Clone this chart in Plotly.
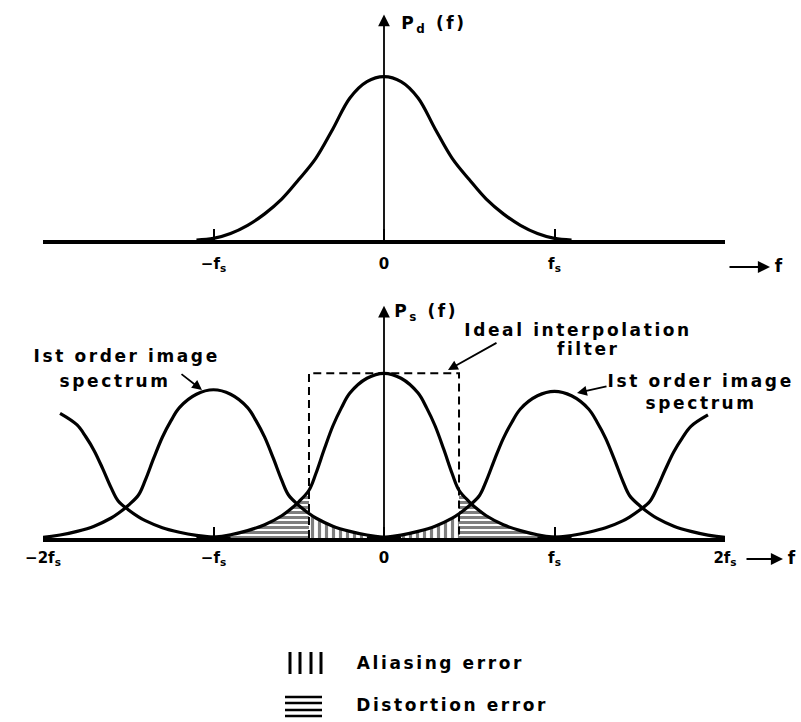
import plotly.graph_objects as go

# ---------------- data ----------------
# Top panel: baseband spectrum Pd(f); one half of the symmetric shape
# (|f| in units of fs, height relative to the peak)
TOP_PROFILE_F = [0, 0.1, 0.2, 0.3, 0.4, 0.5, 0.6, 0.7, 0.8, 0.9, 1.0, 1.1]
TOP_PROFILE_P = [1.0, 0.97, 0.87, 0.68, 0.5, 0.37, 0.25, 0.16, 0.09, 0.04, 0.01, 0.0]

# Bottom panel: sampled spectrum Ps(f), one half of the baseband shape
BOT_PROFILE_F = [0, 0.1, 0.2, 0.25, 0.3, 0.35, 0.4, 0.44, 0.5, 0.56, 0.6, 0.7, 0.8, 0.9, 1.0, 1.1]
BOT_PROFILE_P = [1.0, 0.97, 0.88, 0.79, 0.68, 0.54, 0.39, 0.29, 0.22, 0.165, 0.135, 0.08, 0.045, 0.02, 0.005, 0.0]

# image spectra: centre (fs units), peak height, visible f-span
IMAGE_CENTERS = [-2, -1, 0, 1, 2]
IMAGE_HEIGHTS = [0.78, 0.90, 1.0, 0.89, 0.77]
IMAGE_SPANS = [(-1.9, -0.9), (-2.1, 0.1), (-1.1, 1.1), (-0.1, 2.1), (0.9, 1.9)]

FILTER_EDGE = 0.44      # ideal interpolation filter cut-off (fs units)
FILTER_HEIGHT = 1.0
DISTORTION_LIMIT = 1.0  # extent of the hatched distortion area

TOP_TICKS = [-2, -1, 0, 1, 2]
TOP_TICK_TEXT = ["", "\u2212f<sub>s</sub>", "0", "f<sub>s</sub>", ""]
BOT_TICKS = [-2, -1, 0, 1, 2]
BOT_TICK_TEXT = ["\u22122f<sub>s</sub>", "\u2212f<sub>s</sub>", "0", "f<sub>s</sub>", "2f<sub>s</sub>"]

X_RANGE = [-2, 2]
Y_RANGE = [0, 1.445]

# ---------------- layout geometry (pixels) ----------------
W, H = 801, 722
ML, MR = 43, 76
PW = W - ML - MR
FONT = "DejaVu Sans"


def px(x):
    return (x - ML) / PW


def py(y):
    return (H - y) / H


def image_points(center, height, profile_f, profile_p, lo, hi):
    pts = {}
    for f, p in zip(profile_f, profile_p):
        for s in (-1, 1):
            x = round(center + s * f, 6)
            if lo - 1e-9 <= x <= hi + 1e-9:
                pts[x] = height * p
    xs = sorted(pts)
    return xs, [pts[x] for x in xs]


fig = go.Figure()

BLACK = "black"
CURVE = dict(color=BLACK, width=3.2, shape="spline", smoothing=1.0)

# ---- hatched areas (bottom panel) ----
# distortion error: under the baseband curve outside the filter
for side in (-1, 1):
    lo, hi = (-DISTORTION_LIMIT, -FILTER_EDGE) if side < 0 else (FILTER_EDGE, DISTORTION_LIMIT)
    xs, ys = image_points(0, IMAGE_HEIGHTS[2], BOT_PROFILE_F, BOT_PROFILE_P, lo, hi)
    fig.add_trace(go.Scatter(
        x=xs, y=ys, xaxis="x2", yaxis="y2", mode="lines", fill="tozeroy",
        line=dict(width=0, shape="spline", smoothing=1.0), fillcolor="white",
        fillpattern=dict(shape="-", size=5, solidity=0.6, fgcolor=BLACK, bgcolor="white"),
        hoverinfo="skip", showlegend=False))

# aliasing error: under the first-order images inside the filter
for idx, (lo, hi) in ((1, (-FILTER_EDGE, 0)), (3, (0, FILTER_EDGE))):
    xs, ys = image_points(IMAGE_CENTERS[idx], IMAGE_HEIGHTS[idx], BOT_PROFILE_F, BOT_PROFILE_P, lo, hi)
    fig.add_trace(go.Scatter(
        x=xs, y=ys, xaxis="x2", yaxis="y2", mode="lines", fill="tozeroy",
        line=dict(width=0, shape="spline", smoothing=1.0), fillcolor="white",
        fillpattern=dict(shape="|", size=7, solidity=0.45, fgcolor=BLACK, bgcolor="white"),
        hoverinfo="skip", showlegend=False))

# ---- top panel curve ----
xs, ys = image_points(0, 1.0, TOP_PROFILE_F, TOP_PROFILE_P, -1.1, 1.1)
fig.add_trace(go.Scatter(x=xs, y=ys, xaxis="x", yaxis="y", mode="lines",
                         line=CURVE, hoverinfo="skip", showlegend=False))

# ---- bottom panel curves ----
for c, h, (lo, hi) in zip(IMAGE_CENTERS, IMAGE_HEIGHTS, IMAGE_SPANS):
    xs, ys = image_points(c, h, BOT_PROFILE_F, BOT_PROFILE_P, lo, hi)
    fig.add_trace(go.Scatter(x=xs, y=ys, xaxis="x2", yaxis="y2", mode="lines",
                             line=CURVE, hoverinfo="skip", showlegend=False))

# ideal interpolation filter (dashed rectangle)
fig.add_trace(go.Scatter(
    x=[-FILTER_EDGE, -FILTER_EDGE, FILTER_EDGE, FILTER_EDGE],
    y=[0, FILTER_HEIGHT, FILTER_HEIGHT, 0],
    xaxis="x2", yaxis="y2", mode="lines",
    line=dict(color=BLACK, width=2, dash="8px,5px"),
    hoverinfo="skip", showlegend=False))

axis_common = dict(range=X_RANGE, showgrid=False, zeroline=False, showline=True,
                   linecolor=BLACK, linewidth=3.5, ticks="inside", ticklen=11,
                   tickwidth=2, tickcolor=BLACK, tickmode="array", automargin=False,
                   tickfont=dict(family=FONT, size=15, color=BLACK, weight="bold"),
                   fixedrange=True)
yaxis_common = dict(range=Y_RANGE, visible=False, showgrid=False, zeroline=False,
                    fixedrange=True)

fig.update_layout(
    width=W, height=H,
    margin=dict(l=ML, r=MR, t=0, b=0),
    paper_bgcolor="white", plot_bgcolor="white",
    showlegend=False,
    xaxis=dict(domain=[0, 1], anchor="y", tickvals=TOP_TICKS, ticktext=TOP_TICK_TEXT,
               ticklabelstandoff=7, **axis_common),
    yaxis=dict(domain=[py(240), py(4)], anchor="x", **yaxis_common),
    xaxis2=dict(domain=[0, 1], anchor="y2", tickvals=BOT_TICKS, ticktext=BOT_TICK_TEXT,
                ticklabelstandoff=3, **axis_common),
    yaxis2=dict(domain=[py(538), py(300)], anchor="x2", **yaxis_common),
)

TXT = dict(family=FONT, size=17, color=BLACK, weight="bold")
ann = []
# vertical axes with arrows
for xr, yr, top in (("x", "y", 1.38), ("x2", "y2", 1.41)):
    ann.append(dict(x=0, y=top, ax=0, ay=0, xref=xr, yref=yr, axref=xr, ayref=yr,
                    text="", showarrow=True, arrowhead=2, arrowsize=1.3,
                    arrowwidth=1.8, arrowcolor=BLACK, standoff=0))
# f-axis arrows
for yy, x0, x1, xt in ((267, 728, 770, 774), (559, 745, 783, 787)):
    ann.append(dict(x=px(x1), y=py(yy), xref="paper", yref="paper", ax=-(x1 - x0), ay=0,
                    text="", showarrow=True, arrowhead=2, arrowsize=1.1, arrowwidth=2.2,
                    arrowcolor=BLACK))
    ann.append(dict(x=px(xt), y=py(yy - 1), xref="paper", yref="paper", text="f",
                    showarrow=False, xanchor="left", yanchor="middle", font=TXT))

# labels (centre positions)
labels = [
    ("P<sub>d</sub> (f)", 434, 24),
    ("P<sub>s</sub> (f)", 426, 312),
    ("Ideal interpolation", 578, 330),
    ("filter", 588, 349),
    ("Ist order image", 126, 356),
    ("spectrum", 115, 381),
    ("Ist order image", 700, 381),
    ("spectrum", 701, 403),
]
for t, x, y in labels:
    ann.append(dict(x=px(x), y=py(y), xref="paper", yref="paper", text=t, showarrow=False,
                    xanchor="center", yanchor="middle", font=TXT))

# pointer arrows
for tip, tail in (((448, 370), (498, 342)), ((202, 390), (180, 373)), ((577, 393), (608, 386))):
    ann.append(dict(x=px(tip[0]), y=py(tip[1]), xref="paper", yref="paper",
                    ax=tail[0] - tip[0], ay=tail[1] - tip[1], text="", showarrow=True,
                    arrowhead=2, arrowsize=1.1, arrowwidth=1.8, arrowcolor=BLACK))

# legend
LEGEND_TXT = dict(family=FONT, size=17, color=BLACK, weight="bold")
ann.append(dict(x=px(440), y=py(663), xref="paper", yref="paper", text="Aliasing error",
                showarrow=False, xanchor="center", yanchor="middle", font=LEGEND_TXT))
ann.append(dict(x=px(452), y=py(705), xref="paper", yref="paper", text="Distortion error",
                showarrow=False, xanchor="center", yanchor="middle", font=LEGEND_TXT))
fig.update_layout(annotations=ann)

shapes = []
for xv in (290, 300, 311, 321):
    shapes.append(dict(type="line", xref="paper", yref="paper", x0=px(xv), x1=px(xv),
                       y0=py(652), y1=py(674), line=dict(color=BLACK, width=3)))
for yv in (697, 703, 710, 716):
    shapes.append(dict(type="line", xref="paper", yref="paper", x0=px(285), x1=px(322),
                       y0=py(yv), y1=py(yv), line=dict(color=BLACK, width=2.5)))
fig.update_layout(shapes=shapes)

POST = """
var s = document.createElement('style');
s.innerHTML = 'html,body{margin:0;padding:0;overflow:hidden;} .annotation-text{letter-spacing:2.6px;}';
document.head.appendChild(s);
"""
fig.write_html("out.html", post_script=POST, config={"displayModeBar": False})
